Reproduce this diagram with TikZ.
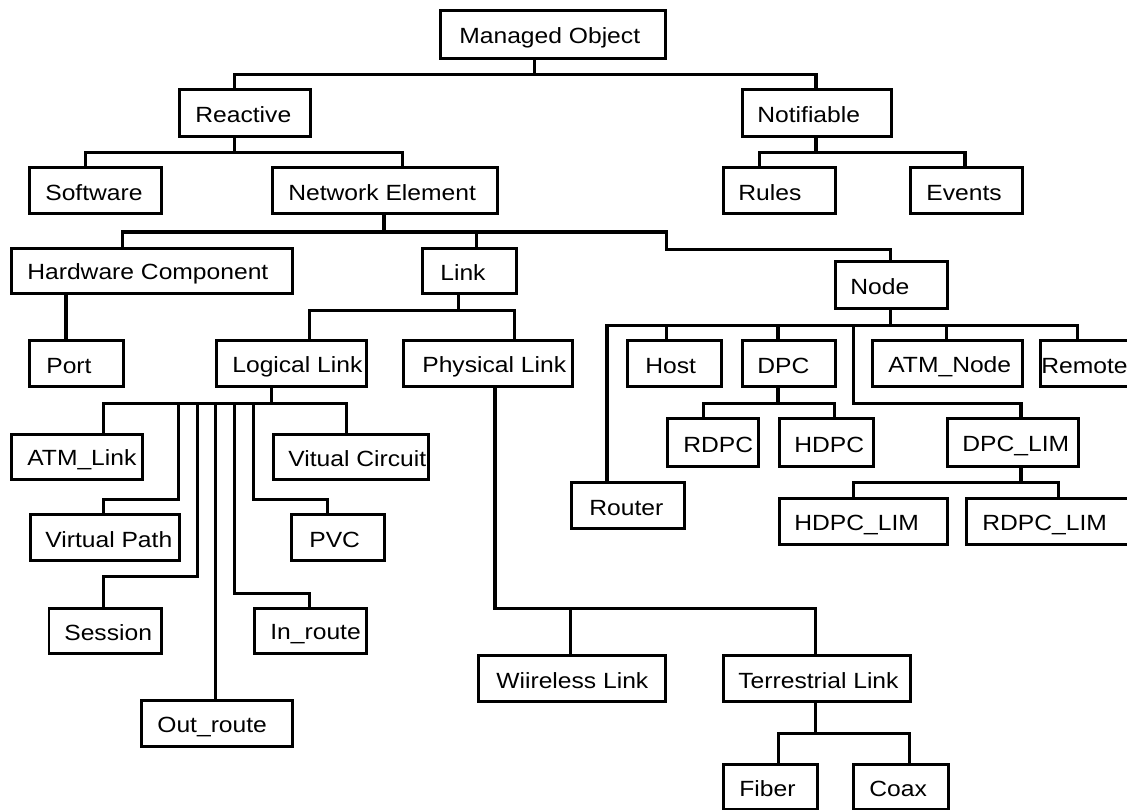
\documentclass[tikz,border=0pt]{standalone}
\usepackage{fontspec}
\setmainfont{Liberation Sans}
\usepackage{graphicx}
\tikzset{
  box/.style={draw, line width=2.7pt, inner xsep=0pt, inner ysep=0pt, font=\fontsize{22}{26}\selectfont},
  conn/.style={line width=3.2pt}
}
% name, x1, y1, x2, y2, text-left, text
\newcommand\tbox[7]{%
  \pgfmathsetlengthmacro\tbw{(#4)-(#2)}%
  \pgfmathsetlengthmacro\tbp{(#6)-(#2)}%
  \pgfmathsetmacro\tbh{(#5)-(#3)}%
  \node[box, minimum height=\tbh pt, anchor=north west] (#1) at (#2,#3)
    {\makebox[\tbw][l]{\hspace*{\tbp}\scalebox{1.12}[1]{#7}\rule[-3pt]{0pt}{25.4pt}}};}
\begin{document}
\begin{tikzpicture}[x=1pt, y=-1pt]
\useasboundingbox (0,0) rectangle (1127,810);
% boxes
\tbox{mo}{439}{9}{664}{57}{458}{Managed Object}
\tbox{reactive}{178}{88}{309}{135}{194}{Reactive}
\tbox{notif}{741}{88}{890}{135}{756}{Notifiable}
\tbox{software}{28}{166}{160}{212}{44}{Software}
\tbox{ne}{271}{166}{496}{212}{287}{Network Element}
\tbox{rules}{722}{166}{834}{212}{737}{Rules}
\tbox{events}{909}{166}{1021}{212}{925}{Events}
\tbox{hc}{10}{247}{291}{292}{26}{Hardware Component}
\tbox{link}{421}{247}{515}{292}{439}{Link}
\tbox{node}{834}{260}{946}{307}{849}{Node}
\tbox{port}{28}{339}{122}{385}{45}{Port}
\tbox{ll}{215}{339}{365}{385}{231}{Logical Link}
\tbox{pl}{402}{339}{571}{385}{421}{Physical Link}
\tbox{host}{626}{339}{720}{385}{644}{Host}
\tbox{dpc}{741}{339}{834}{385}{756}{DPC}
\tbox{atmnode}{871}{339}{1021}{385}{887}{ATM\_Node}
\tbox{remote}{1039}{339}{1140}{385}{1040}{Remote}
\tbox{atmlink}{10}{433}{141}{478}{26}{ATM\_Link}
\tbox{vc}{272}{433}{427}{478}{287}{Vitual Circuit}
\tbox{rdpc}{666}{417}{757}{465}{682}{RDPC}
\tbox{hdpc}{778}{417}{872}{465}{793}{HDPC}
\tbox{dpclim}{946}{417}{1077}{465}{961}{DPC\_LIM}
\tbox{router}{570}{481}{683}{527}{588}{Router}
\tbox{hdpclim}{778}{497}{946}{543}{793}{HDPC\_LIM}
\tbox{rdpclim}{965}{497}{1140}{543}{981}{RDPC\_LIM}
\tbox{vp}{29}{513}{178}{559}{44}{Virtual Path}
\tbox{pvc}{290}{513}{383}{559}{308}{PVC}
\tbox{session}{47.5}{607}{160}{652}{63}{Session}
\tbox{inroute}{253}{607}{365}{652}{269}{In\_route}
\tbox{wl}{477}{654}{664}{700}{495}{Wiireless Link}
\tbox{tl}{722}{654}{909}{700}{737}{Terrestrial Link}
\tbox{outroute}{140}{699}{291}{745}{156}{Out\_route}
\tbox{fiber}{722}{763}{816}{808}{738}{Fiber}
\tbox{coax}{852}{763}{947}{808}{868}{Coax}
% connectors
\draw[conn] ([xshift=95.6pt]mo.south west) -- ++(0,14.7) -| ([xshift=56.6pt]reactive.north west);
\draw[conn] ([xshift=95.6pt]mo.south west) -- ++(0,14.7) -| ([xshift=75pt]notif.north west);
\draw[conn] ([xshift=56.6pt]reactive.south west) -- ++(0,15) -| ([xshift=57.7pt]software.north west);
\draw[conn] ([xshift=56.6pt]reactive.south west) -- ++(0,15) -| ([xshift=131.5pt]ne.north west);
\draw[conn] ([xshift=75pt]notif.south west) -- ++(0,15) -| ([xshift=37.3pt]rules.north west);
\draw[conn] ([xshift=75pt]notif.south west) -- ++(0,15) -| ([xshift=56pt]events.north west);
\draw[conn] ([xshift=113pt]ne.south west) -- ++(0,17.3) -| ([xshift=112.5pt]hc.north west);
\draw[conn] ([xshift=113pt]ne.south west) -- ++(0,17.3) -| ([xshift=55.8pt]link.north west);
\draw[conn] ([xshift=113pt]ne.south west) -- ++(0,17.3) -- ++(282.7,0) -- ++(0,17.4) -| ([xshift=56.2pt]node.north west);
\draw[conn] ([xshift=56pt]hc.south west) -- ([xshift=38pt]port.north west);
\draw[conn] ([xshift=37.3pt]link.south west) -- ++(0,15.5) -| ([xshift=94.3pt]ll.north west);
\draw[conn] ([xshift=37.3pt]link.south west) -- ++(0,15.5) -| ([xshift=112.5pt]pl.north west);
% logical link children
\draw[conn] ([xshift=56.7pt]ll.south west) -- ++(0,15.5) -| ([xshift=93.3pt]atmlink.north west);
\draw[conn] ([xshift=56.7pt]ll.south west) -- ++(0,15.5) -| ([xshift=74.7pt]vc.north west);
\draw[conn] ([xshift=56.7pt]ll.south west) -- ++(0,15.5) -- ++(-93.4,0) -- ++(0,96.2) -| ([xshift=74.3pt]vp.north west);
\draw[conn] ([xshift=56.7pt]ll.south west) -- ++(0,15.5) -- ++(-74.2,0) -- ++(0,173.5) -| ([xshift=56.1pt]session.north west);
\draw[conn] ([xshift=56.7pt]ll.south west) -- ++(0,15.5) -- ++(-56.2,0) -- ([xshift=75.5pt]outroute.north west);
\draw[conn] ([xshift=56.7pt]ll.south west) -- ++(0,15.5) -- ++(-37.5,0) -- ++(0,190.2) -| ([xshift=56.3pt]inroute.north west);
\draw[conn] ([xshift=56.7pt]ll.south west) -- ++(0,15.5) -- ++(-18.4,0) -- ++(0,96.2) -| ([xshift=37.3pt]pvc.north west);
% physical link children
\draw[conn] ([xshift=93pt]pl.south west) -- ++(0,221) -| ([xshift=93.7pt]wl.north west);
\draw[conn] ([xshift=93pt]pl.south west) -- ++(0,221) -| ([xshift=93.7pt]tl.north west);
\draw[conn] ([xshift=93.7pt]tl.south west) -- ++(0,30.7) -| ([xshift=56.3pt]fiber.north west);
\draw[conn] ([xshift=93.7pt]tl.south west) -- ++(0,30.7) -| ([xshift=57.3pt]coax.north west);
% node children
\draw[conn] ([xshift=56.2pt]node.south west) -- ++(0,15.7) -| ([xshift=37pt]router.north west);
\draw[conn] ([xshift=56.2pt]node.south west) -- ++(0,15.7) -| ([xshift=40.7pt]host.north west);
\draw[conn] ([xshift=56.2pt]node.south west) -- ++(0,15.7) -| ([xshift=37pt]dpc.north west);
\draw[conn] ([xshift=56.2pt]node.south west) -- ++(0,15.7) -| ([xshift=75.3pt]atmnode.north west);
\draw[conn] ([xshift=56.2pt]node.south west) -- ++(0,15.7) -| ([xshift=38.5pt]remote.north west);
\draw[conn] ([xshift=56.2pt]node.south west) -- ++(0,15.7) -- ++(-36.5,0) -- ++(0,78) -| ([xshift=75pt]dpclim.north west);
\draw[conn] ([xshift=37pt]dpc.south west) -- ++(0,15.7) -| ([xshift=37.6pt]rdpc.north west);
\draw[conn] ([xshift=37pt]dpc.south west) -- ++(0,15.7) -| ([xshift=56.1pt]hdpc.north west);
\draw[conn] ([xshift=75pt]dpclim.south west) -- ++(0,15) -| ([xshift=75.7pt]hdpclim.north west);
\draw[conn] ([xshift=75pt]dpclim.south west) -- ++(0,15) -| ([xshift=93.4pt]rdpclim.north west);
\end{tikzpicture}
\end{document}
